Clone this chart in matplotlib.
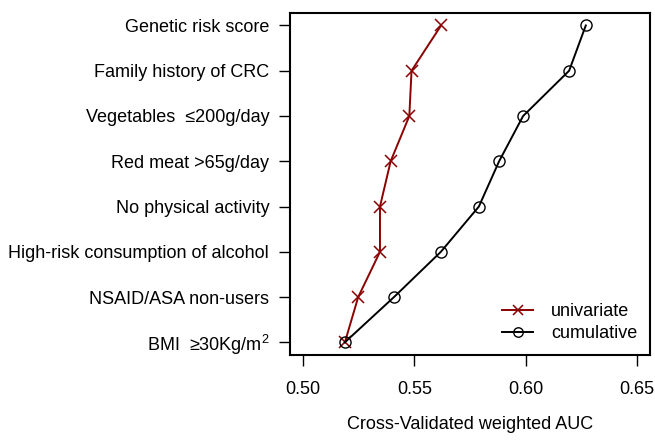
import matplotlib
matplotlib.use("Agg")
import matplotlib.pyplot as plt

plt.rcParams['font.family'] = ['Liberation Sans', 'DejaVu Sans']
plt.rcParams['mathtext.fontset'] = 'custom'
plt.rcParams['mathtext.rm'] = 'Liberation Sans'

# factors, bottom to top
factors = ["BMI  \u226530Kg/m$^2$", "NSAID/ASA non-users", "High-risk consumption of alcohol",
           "No physical activity", "Red meat >65g/day", "Vegetables  \u2264200g/day",
           "Family history of CRC", "Genetic risk score"]
univariate = [0.5187, 0.5247, 0.5345, 0.5345, 0.5393, 0.5477, 0.5487, 0.5620]
cumulative = [0.5187, 0.5408, 0.5619, 0.5790, 0.5881, 0.5989, 0.6196, 0.6271]
xticks = [0.50, 0.55, 0.60, 0.65]

pos = list(range(1, len(factors) + 1))

fig = plt.figure(figsize=(6.55, 4.41), dpi=100)
ax = fig.add_axes([0.4427, 0.195, 0.5497, 0.776])

ax.plot(univariate, pos, color='#8b0000', marker='x', markersize=9, mew=1.1,
        lw=1.4, label='univariate')
ax.plot(cumulative, pos, color='black', marker='o', markersize=8, mfc='none',
        mew=1.0, lw=1.4, label='cumulative')

ax.set_xlim(0.494, 0.656)
ax.set_ylim(0.72, 8.28)
ax.set_xticks(xticks)
ax.set_xticklabels([f"{v:.2f}" for v in xticks])
ax.set_yticks(pos)
ax.set_yticklabels(factors)
ax.tick_params(axis='both', direction='out', length=8, width=1, labelsize=13)
ax.tick_params(axis='x', pad=11)
ax.tick_params(axis='y', pad=7)
for s in ax.spines.values():
    s.set_linewidth(1.5)

ax.set_xlabel('Cross-Validated weighted AUC', fontsize=13, labelpad=13)

ax.legend(loc='lower right', frameon=False, fontsize=13, handlelength=1.7,
          handletextpad=1.0, labelspacing=0.3, borderaxespad=0.3, markerscale=0.85)

fig.savefig('out.png', dpi=100)
